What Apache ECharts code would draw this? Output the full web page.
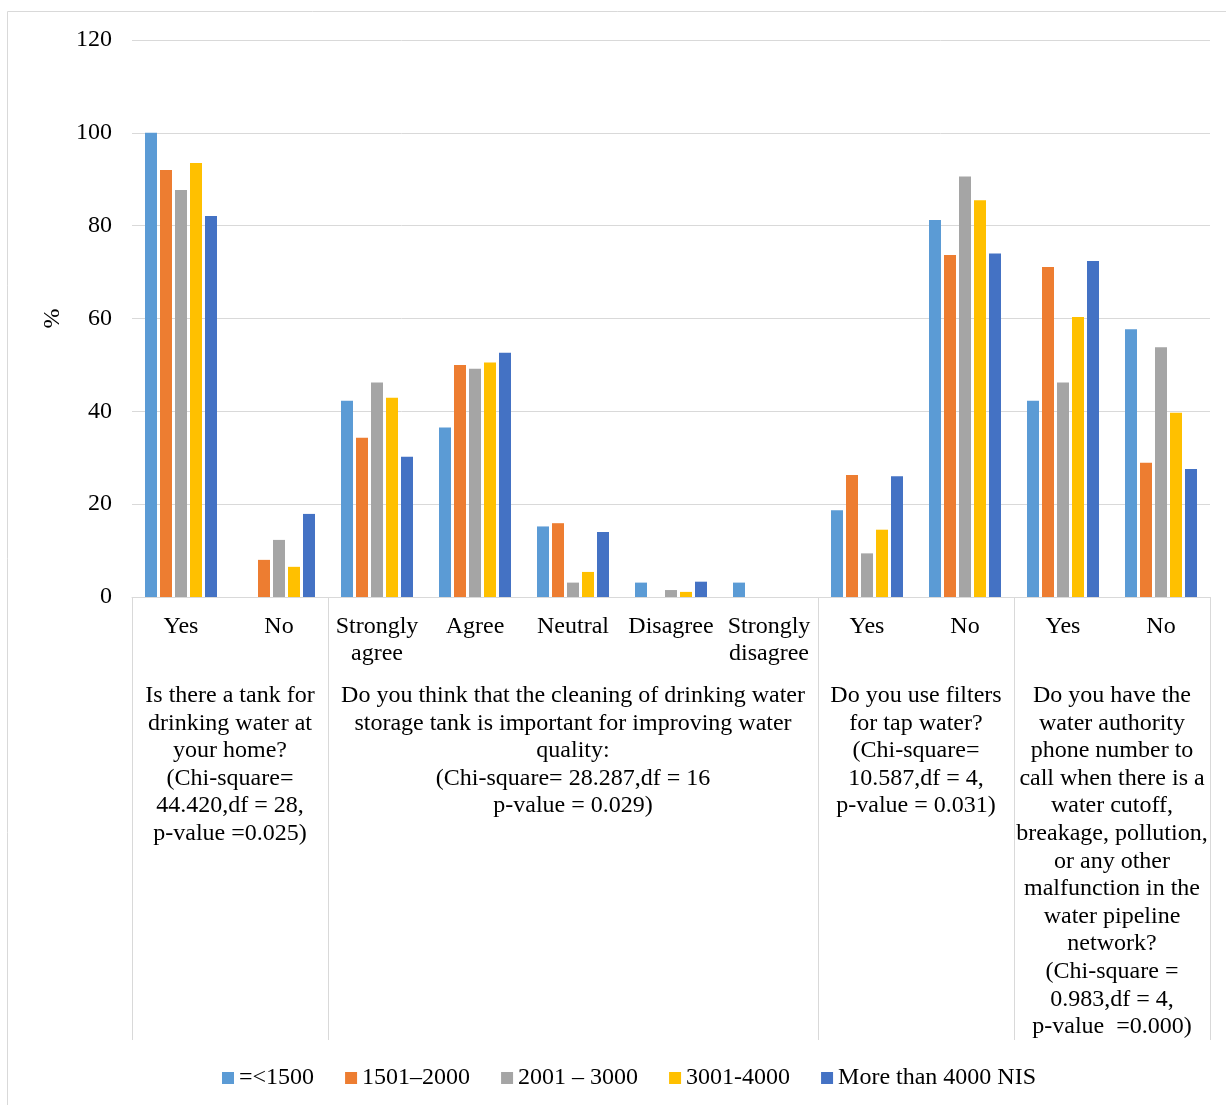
<!DOCTYPE html>
<html>
<head>
<meta charset="utf-8">
<script src="https://cdn.jsdelivr.net/npm/echarts@6/dist/echarts.min.js"></script>
<style>html,body{margin:0;padding:0;background:#fff}#c{width:1226px;height:1105px}</style>
</head>
<body>
<div id="c"></div>
<script>
const categories = ['Yes', 'No', 'Strongly\nagree', 'Agree', 'Neutral', 'Disagree', 'Strongly\ndisagree', 'Yes', 'No', 'Yes', 'No'];
const seriesNames = ['=<1500', '1501\u20132000', '2001 \u2013 3000', '3001-4000', 'More than 4000 NIS'];
const s1500 = [100, 0, 42.3, 36.5, 15.2, 3.1, 3.1, 18.7, 81.2, 42.3, 57.7];
const s2000 = [92.0, 8.0, 34.3, 50.0, 15.9, 0, 0, 26.3, 73.7, 71.1, 28.9];
const s3000 = [87.7, 12.3, 46.2, 49.2, 3.1, 1.5, 0, 9.4, 90.6, 46.2, 53.8];
const s4000 = [93.5, 6.5, 42.9, 50.5, 5.4, 1.1, 0, 14.5, 85.5, 60.3, 39.7];
const sMore = [82.1, 17.9, 30.2, 52.6, 14.0, 3.3, 0, 26.0, 74.0, 72.4, 27.6];
const yTicks = [0, 20, 40, 60, 80, 100, 120];
const groupBounds = [0, 2, 7, 9, 11];
const groupLabels = [
  'Is there a tank for\ndrinking water at\nyour home?\n(Chi-square=\n44.420,df = 28,\np-value =0.025)',
  'Do you think that the cleaning of drinking water\nstorage tank is important for improving water\nquality:\n(Chi-square= 28.287,df = 16\np-value = 0.029)',
  'Do you use filters\nfor tap water?\n(Chi-square=\n10.587,df = 4,\np-value = 0.031)',
  'Do you have the\nwater authority\nphone number to\ncall when there is a\nwater cutoff,\nbreakage, pollution,\nor any other\nmalfunction in the\nwater pipeline\nnetwork?\n(Chi-square =\n0.983,df = 4,\np-value  =0.000)'
];
const colors = ['#5B9BD5', '#ED7D31', '#A5A5A5', '#FFC000', '#4472C4'];

const FONT = "'Liberation Serif', 'Times New Roman', serif";
const FS = 24;
const groupCenters = groupLabels.map((_, i) => (groupBounds[i] + groupBounds[i + 1]) / 2);
const allData = [s1500, s2000, s3000, s4000, sMore];

const chart = echarts.init(document.getElementById('c'), null, {renderer: 'canvas'});
chart.setOption({
  animation: false,
  color: colors,
  textStyle: {fontFamily: FONT},
  grid: {left: 132, right: 16, top: 40, bottom: 508, containLabel: false},
  graphic: [{
    type: 'rect', shape: {x: 7.5, y: 11.5, width: 1240, height: 1110},
    style: {fill: 'none', stroke: '#D9D9D9', lineWidth: 1}, silent: true, z: -10
  }],
  legend: {
    left: 217, top: 1060, icon: 'rect', itemWidth: 12, itemHeight: 12, itemGap: 31,
    textStyle: {fontFamily: FONT, fontSize: FS, color: '#000', lineHeight: 26},
    data: seriesNames
  },
  xAxis: [{
    type: 'category', data: categories, position: 'bottom',
    axisLine: {show: true, lineStyle: {color: '#D9D9D9', width: 1}},
    axisTick: {show: false},
    axisLabel: {interval: 0, margin: 16, fontFamily: FONT, fontSize: FS, color: '#000', lineHeight: 27, align: 'center'}
  }, {
    type: 'value', min: 0, max: 11, position: 'bottom',
    axisLine: {show: false},
    splitLine: {show: false},
    axisTick: {show: true, customValues: groupBounds, length: 443, inside: false, lineStyle: {color: '#D9D9D9', width: 1}},
    axisLabel: {
      show: true, customValues: groupCenters, margin: 85,
      fontFamily: FONT, fontSize: FS, color: '#000', lineHeight: 27.6, align: 'center',
      formatter: function (v) { const i = groupCenters.indexOf(v); return i >= 0 ? groupLabels[i] : ''; }
    }
  }],
  yAxis: {
    type: 'value', min: 0, max: 120, interval: 20,
    name: '%', nameLocation: 'middle', nameRotate: 90, nameGap: 64,
    nameTextStyle: {fontFamily: FONT, fontSize: FS, color: '#000'},
    axisLine: {show: false}, axisTick: {show: false},
    axisLabel: {margin: 20, fontFamily: FONT, fontSize: FS, color: '#000', padding: [4, 0, 0, 0],
      formatter: v => yTicks.includes(v) ? String(v) : ''},
    splitLine: {show: true, lineStyle: {color: '#D9D9D9', width: 1}}
  },
  series: seriesNames.map((n, i) => ({
    name: n, type: 'bar', xAxisIndex: 0, data: allData[i],
    barWidth: 12, barGap: '25%', itemStyle: {color: colors[i]}
  }))
});
</script>
</body>
</html>
